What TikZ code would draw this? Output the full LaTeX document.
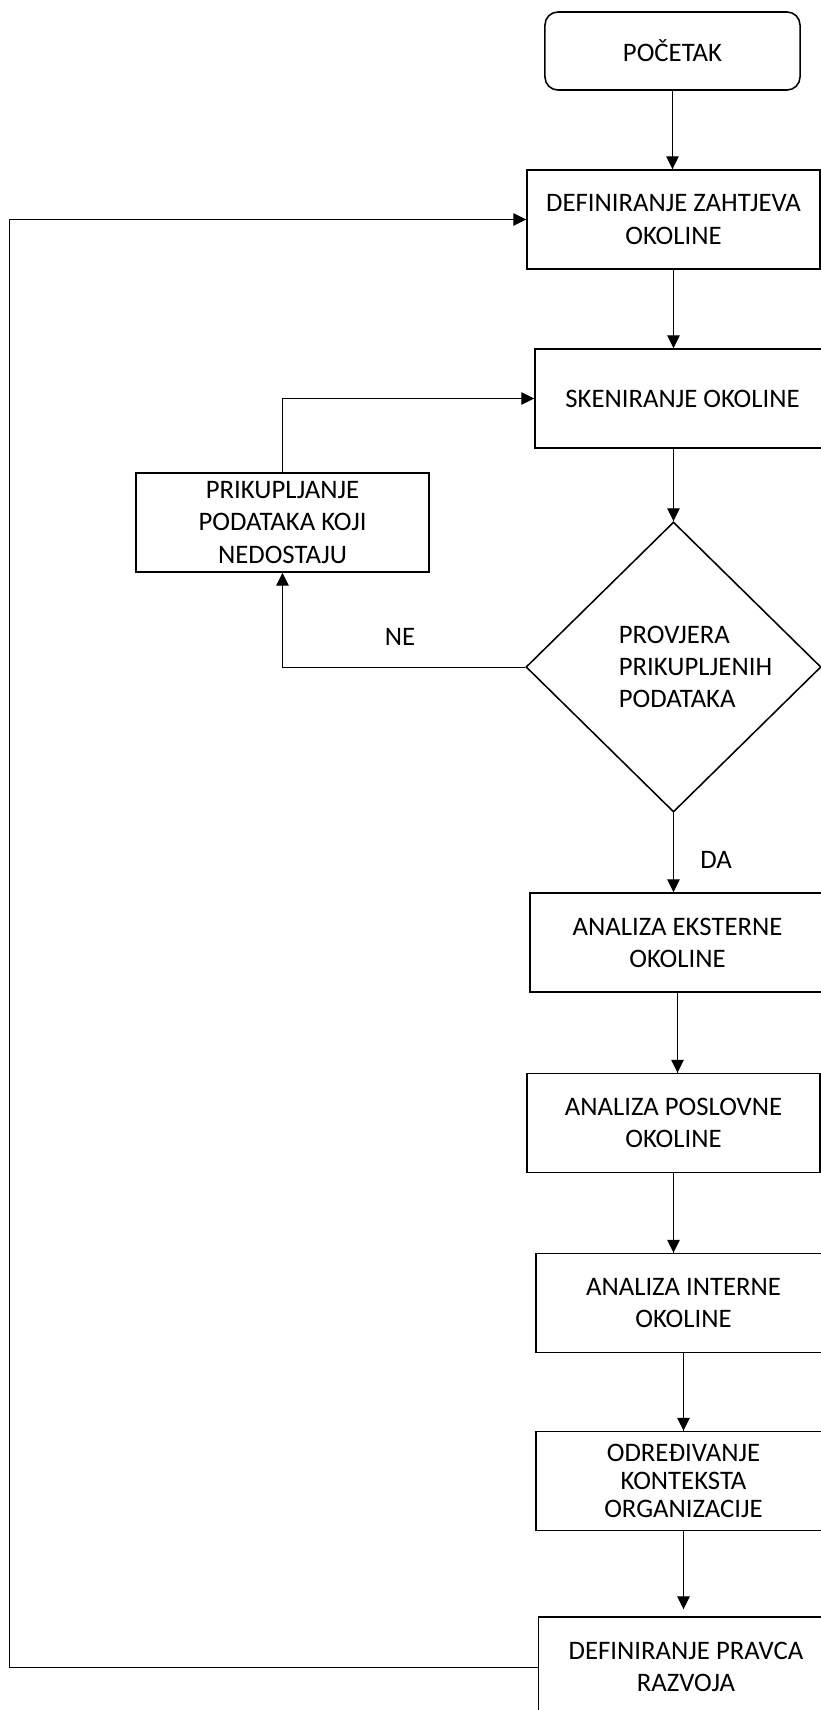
\documentclass[tikz,border=0pt]{standalone}
\usepackage{fontspec}
\setmainfont{Carlito}
\usetikzlibrary{shapes.geometric, arrows.meta, decorations.markings}

\begin{document}
\begin{tikzpicture}[x=0.025cm, y=-0.025cm]
\tikzset{
arr/.style={postaction=decorate,
decoration={markings,
mark=at position 1 with {\arrow{Triangle[length=3.2mm,width=3.1mm]}}
}},
box/.style={draw, line width=1.1pt, minimum width=7.375cm, minimum height=2.475cm,
  align=center, inner sep=0pt, font=\fontsize{19}{22.8}\selectfont},
startbox/.style={box, rounded corners=0.325cm, minimum width=6.375cm, minimum height=1.95cm},
decision/.style={draw, diamond, line width=1.1pt, minimum width=7.375cm, minimum height=7.25cm, inner sep=0pt},
lbl/.style={font=\fontsize{19}{22.8}\selectfont},
conn/.style={line width=0.7pt}
}
\useasboundingbox (0,0) rectangle (821,1710);

\node[startbox] (poc) at (672.5,51) {POČETAK};
\node[box, minimum width=7.325cm] (dzo) at (673.5,219.5) {DEFINIRANJE ZAHTJEVA\\OKOLINE};
\node[box] (sken) at (682.5,398.5) {SKENIRANJE OKOLINE};
\node[box, minimum width=7.325cm] (prik) at (282.5,522.5) {PRIKUPLJANJE\\PODATAKA KOJI\\NEDOSTAJU};
\node[decision, label={[lbl, align=left, xshift=0.55cm]center:PROVJERA\\PRIKUPLJENIH\\PODATAKA}] (chk) at (673.5,667) {};
\node[box] (aeo) at (677.5,942.5) {ANALIZA EKSTERNE\\OKOLINE};
\node[box, minimum width=7.325cm] (apo) at (673.5,1123) {ANALIZA POSLOVNE\\OKOLINE};
\node[box] (aio) at (683.5,1303) {ANALIZA INTERNE\\OKOLINE};
\node[box, font=\fontsize{19}{19.9}\selectfont] (odr) at (683.5,1481) {ODREĐIVANJE\\KONTEKSTA\\ORGANIZACIJE};
\node[box, minimum height=2.5cm] (dpr) at (686,1667) {DEFINIRANJE PRAVCA\\RAZVOJA};
\node[lbl] (ne) at (400,637) {NE};
\node[lbl] (da) at (716,860) {DA};
\coordinate (back) at (9,0);

\draw[conn, arr] (poc.south) -- (poc.south |- dzo.north);
\draw[conn, arr] (dzo.south) -- (dzo.south |- sken.north);
\draw[conn, arr] (chk.north |- sken.south) -- (chk.north);
\draw[conn, arr] (chk.west) -| (prik.south);
\draw[conn, arr] (prik.north) |- (sken.west);
\draw[conn, arr] (chk.south) -- (chk.south |- aeo.north);
\draw[conn, arr] (aeo.south) -- (aeo.south |- apo.north);
\draw[conn, arr] (apo.south) -- (apo.south |- aio.north);
\draw[conn, arr] (aio.south) -- (aio.south |- odr.north);
\draw[conn, arr] (odr.south) -- ([yshift=5pt]odr.south |- dpr.north);
% povratna veza
\draw[conn, arr] (dpr.west) -- (dpr.west -| back) -- (dzo.west -| back) -- (dzo.west);
\end{tikzpicture}
\end{document}
